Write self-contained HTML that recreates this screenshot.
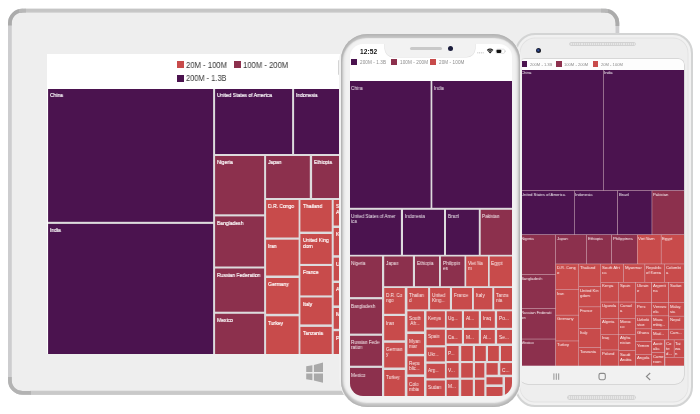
<!DOCTYPE html>
<html><head><meta charset="utf-8"><title>Treemap</title>
<style>
html,body{margin:0;padding:0;background:#fff;}
body{width:700px;height:414px;position:relative;overflow:hidden;font-family:"Liberation Sans",sans-serif;}
.abs{position:absolute;}
.c{position:absolute;overflow:hidden;color:#fff;}
.c span{position:absolute;white-space:nowrap;will-change:transform;}
.t span{left:2.5px;top:3.5px;font-size:5.65px;line-height:6.3px;-webkit-text-stroke:0.18px #fff;transform:scaleX(.885);transform-origin:0 0;}
.i span{left:1.8px;top:4.7px;font-size:4.8px;line-height:5.0px;transform:scaleX(.95);transform-origin:0 0;opacity:.92}
.a span{left:0.9px;top:1.0px;font-size:4.3px;line-height:5.0px;transform:scaleX(.93);transform-origin:0 0;opacity:.95}
.a.top span{top:0.1px}
.i.lc span{left:1.3px}
#tablet{left:8px;top:8.5px;width:604px;height:379px;border:3.7px solid #c9c9c9;border-radius:14px;background:#eeeeee;}
#tscreen{left:47.2px;top:54.2px;width:300px;height:299.8px;background:#fff;overflow:hidden;}
#tmap{left:0.7px;top:34.8px;width:300px;height:265px;background:#d9d5d9;}
.lg{position:absolute;color:#353535;white-space:nowrap;transform-origin:0 0;will-change:transform;}
#l1,#l2{transform:scaleX(.917);} #l3{transform:scaleX(.885);}
.sq{position:absolute;}
#android{left:515px;top:33px;width:173.8px;height:369.8px;border:2.1px solid #d3d4d4;border-radius:20px;background:#eeeeee;box-shadow:inset 0 0 0 2.6px #f1f1f1, inset 0 0 0 3.4px #e2e2e2;}
#ascreen{left:519px;top:58.6px;width:165px;height:325.4px;background:#f1f1f1;border-radius:6px 6px 9px 9px;overflow:hidden;box-shadow:0 0 0 0.7px #cfcfcf;}
#amap{left:0;top:11.4px;width:165px;height:295.6px;background:#d7b9c4;}
#iphone{left:338.6px;top:33.8px;width:183.9px;height:373.4px;border-radius:28px;background:#f1f1f1;}
#ibez{left:341.2px;top:33.8px;width:178.7px;height:373.4px;border-radius:26px;background:#f2f2f2;box-shadow:inset 0 0 3.6px 1.6px #adadad, inset 0 3px 1px 0.9px #c7c7c7, inset 0 -3.2px 1.4px 0.9px #cfcfcf;}
#iscreen{left:350px;top:44.4px;width:162px;height:351.6px;background:#fff;border-radius:13px 13px 13px 13px;overflow:hidden;}
#imap{left:0;top:36.6px;width:162px;height:315px;background:#d9d5d9;}
</style></head><body>

<svg class="abs" style="left:0;top:0" width="700" height="414" viewBox="0 0 700 414">
  <rect x="9.9" y="10.6" width="607.5" height="382.3" rx="12.5" ry="12.5" fill="#eeeeee" stroke="#cdcdcf" stroke-width="3.8"/>
  <path d="M22 10.6H605" stroke="#c5c5c5" stroke-width="3.8" fill="none"/>
  <path d="M22 12.3H605" stroke="#dadada" stroke-width="0.7" fill="none"/>
  <path d="M30 392.9H605" stroke="#c9c9c9" stroke-width="3.8" fill="none"/>
  <path d="M30 390.6H605" stroke="#e2e2e2" stroke-width="0.9" fill="none"/>
  <path d="M9.9 25.5V23.1A12.5 12.5 0 0 1 22.4 10.6" stroke="#ababab" stroke-width="3.8" fill="none"/>
  <path d="M19 10.9 Q22 10.6 26 10.6" stroke="#b8b8b8" stroke-width="3.8" fill="none"/>
  <path d="M617.4 26V23.1A12.5 12.5 0 0 0 604.9 10.6" stroke="#ababab" stroke-width="3.8" fill="none"/>
  <path d="M608 10.9 Q605 10.6 601 10.6" stroke="#b8b8b8" stroke-width="3.8" fill="none"/>
  <path d="M9.9 377V380.4A12.5 12.5 0 0 0 22.4 392.9H31" stroke="#b3b3b3" stroke-width="3.8" fill="none"/>
</svg>
<div id="tscreen" class="abs">
  <div class="sq" style="left:129.5px;top:7.3px;width:7px;height:7px;background:#C84B4B"></div>
  <div class="lg" id="l1" style="left:138.6px;top:5.9px;font-size:8.4px;line-height:11px;">20M - 100M</div>
  <div class="sq" style="left:187.1px;top:7.3px;width:7px;height:7px;background:#8C304D"></div>
  <div class="lg" id="l2" style="left:196.3px;top:5.9px;font-size:8.4px;line-height:11px;">100M - 200M</div>
  <div class="sq" style="left:129.5px;top:20.5px;width:7px;height:7px;background:#4B134F"></div>
  <div class="lg" id="l3" style="left:138.6px;top:19.1px;font-size:8.4px;line-height:11px;">200M - 1.3B</div>
  <div id="tmap" class="abs">
<svg class="abs" style="left:0;top:0" width="300" height="265" viewBox="0 0 300 265"><rect width="300" height="265" fill="#dddbdd"/>
<rect x="0.10" y="0.00" width="165.00" height="132.80" fill="#4B134F"/>
<rect x="0.10" y="134.90" width="165.00" height="130.10" fill="#4B134F"/>
<rect x="167.10" y="0.00" width="77.00" height="65.00" fill="#4B134F"/>
<rect x="246.10" y="0.00" width="52.00" height="65.00" fill="#4B134F"/>
<rect x="167.10" y="67.00" width="49.00" height="58.30" fill="#8C304D"/>
<rect x="167.10" y="127.40" width="49.00" height="50.10" fill="#8C304D"/>
<rect x="167.10" y="179.50" width="49.00" height="43.20" fill="#8C304D"/>
<rect x="167.10" y="224.80" width="49.00" height="40.20" fill="#8C304D"/>
<rect x="218.10" y="67.00" width="43.70" height="42.00" fill="#8C304D"/>
<rect x="264.10" y="67.00" width="34.00" height="42.00" fill="#8C304D"/>
<rect x="218.10" y="111.00" width="32.50" height="37.50" fill="#C84B4B"/>
<rect x="218.10" y="150.70" width="32.50" height="35.80" fill="#C84B4B"/>
<rect x="218.10" y="189.00" width="32.50" height="35.80" fill="#C84B4B"/>
<rect x="218.10" y="227.30" width="32.50" height="37.70" fill="#C84B4B"/>
<rect x="252.40" y="111.00" width="31.30" height="31.60" fill="#C84B4B"/>
<rect x="252.40" y="145.00" width="31.30" height="29.90" fill="#C84B4B"/>
<rect x="252.40" y="177.00" width="31.30" height="29.40" fill="#C84B4B"/>
<rect x="252.40" y="208.50" width="31.30" height="26.90" fill="#C84B4B"/>
<rect x="252.40" y="237.90" width="31.30" height="27.10" fill="#C84B4B"/>
<rect x="285.70" y="111.00" width="12.40" height="25.50" fill="#C84B4B"/>
<rect x="285.70" y="139.00" width="12.40" height="27.20" fill="#C84B4B"/>
<rect x="285.70" y="168.70" width="12.40" height="22.90" fill="#C84B4B"/>
<rect x="285.70" y="194.00" width="12.40" height="22.40" fill="#C84B4B"/>
<rect x="285.70" y="219.00" width="12.40" height="20.80" fill="#C84B4B"/>
<rect x="285.70" y="242.20" width="12.40" height="22.80" fill="#C84B4B"/>
</svg>
<div class="c t" style="left:0.1px;top:0.0px;width:165.0px;height:132.8px;"><span>China</span></div>
<div class="c t" style="left:0.1px;top:134.9px;width:165.0px;height:130.1px;"><span>India</span></div>
<div class="c t" style="left:167.1px;top:0.0px;width:77.0px;height:65.0px;"><span>United States of America</span></div>
<div class="c t" style="left:246.1px;top:0.0px;width:52.0px;height:65.0px;"><span>Indonesia</span></div>
<div class="c t" style="left:167.1px;top:67.0px;width:49.0px;height:58.3px;"><span>Nigeria</span></div>
<div class="c t" style="left:167.1px;top:127.4px;width:49.0px;height:50.1px;"><span>Bangladesh</span></div>
<div class="c t" style="left:167.1px;top:179.5px;width:49.0px;height:43.2px;"><span>Russian Federation</span></div>
<div class="c t" style="left:167.1px;top:224.8px;width:49.0px;height:40.2px;"><span>Mexico</span></div>
<div class="c t" style="left:218.1px;top:67.0px;width:43.7px;height:42.0px;"><span>Japan</span></div>
<div class="c t" style="left:264.1px;top:67.0px;width:34.0px;height:42.0px;"><span>Ethiopia</span></div>
<div class="c t" style="left:218.1px;top:111.0px;width:32.5px;height:37.5px;"><span>D.R. Congo</span></div>
<div class="c t" style="left:218.1px;top:150.7px;width:32.5px;height:35.8px;"><span>Iran</span></div>
<div class="c t" style="left:218.1px;top:189.0px;width:32.5px;height:35.8px;"><span>Germany</span></div>
<div class="c t" style="left:218.1px;top:227.3px;width:32.5px;height:37.7px;"><span>Turkey</span></div>
<div class="c t" style="left:252.4px;top:111.0px;width:31.3px;height:31.6px;"><span>Thailand</span></div>
<div class="c t" style="left:252.4px;top:145.0px;width:31.3px;height:29.9px;"><span>United King<br>dom</span></div>
<div class="c t" style="left:252.4px;top:177.0px;width:31.3px;height:29.4px;"><span>France</span></div>
<div class="c t" style="left:252.4px;top:208.5px;width:31.3px;height:26.9px;"><span>Italy</span></div>
<div class="c t" style="left:252.4px;top:237.9px;width:31.3px;height:27.1px;"><span>Tanzania</span></div>
<div class="c t" style="left:285.7px;top:111.0px;width:12.4px;height:25.5px;"><span>Sou<br>Afr</span></div>
<div class="c t" style="left:285.7px;top:139.0px;width:12.4px;height:27.2px;"><span>Kenya</span></div>
<div class="c t" style="left:285.7px;top:168.7px;width:12.4px;height:22.9px;"><span>Ug</span></div>
<div class="c t" style="left:285.7px;top:194.0px;width:12.4px;height:22.4px;"><span>Alg</span></div>
<div class="c t" style="left:285.7px;top:219.0px;width:12.4px;height:20.8px;"><span>Mo</span></div>
<div class="c t" style="left:285.7px;top:242.2px;width:12.4px;height:22.8px;"><span>Pol</span></div>
  </div>
</div>
<!-- windows logo -->
<svg class="abs" style="left:305px;top:361px" width="20" height="24" viewBox="305 361 20 24">
 <g fill="#a9a9a9">
  <polygon points="306.2,366.2 312.4,365.2 312.4,372 306.2,372"/>
  <polygon points="313.9,365 323,362.6 323,372 313.9,372"/>
  <polygon points="306.2,373.5 312.4,373.5 312.4,380.2 306.2,379.2"/>
  <polygon points="313.9,373.5 323,373.5 323,382.8 313.9,380.5"/>
 </g>
</svg>

<div id="android" class="abs"></div>
<div class="abs" style="left:569.6px;top:42.8px;width:65.8px;height:2.6px;border-radius:1.6px;background:repeating-linear-gradient(90deg,#d6d6d6 0,#d6d6d6 1px,#e6e6e6 1px,#e6e6e6 2.1px);box-shadow:0 0 0 0.7px #c9c9c9;"></div>
<div class="abs" style="left:536px;top:47.5px;width:5px;height:5px;border-radius:50%;background:radial-gradient(circle at 45% 45%,#3a63c0 0,#1a2244 38%,#1a1a1a 70%,#444 100%);"></div>
<div class="abs" style="left:567.7px;top:396.1px;width:67.4px;height:3px;border-radius:1.8px;background:repeating-linear-gradient(90deg,#d6d6d6 0,#d6d6d6 1px,#e6e6e6 1px,#e6e6e6 2.1px);box-shadow:0 0 0 0.7px #c9c9c9;"></div>
<div id="ascreen" class="abs">
  <div class="abs" style="left:0;top:0;width:165px;height:11.5px;background:#fdfdfd"></div>
  <div class="sq" style="left:1px;top:2.4px;width:7px;height:5.6px;background:#4B134F"></div>
  <div class="lg al" style="left:10.5px;top:3.5px;">200M - 1.3B</div>
  <div class="sq" style="left:37px;top:2.4px;width:5.8px;height:5.6px;background:#8C304D"></div>
  <div class="lg al" style="left:45px;top:3.5px;">100M - 200M</div>
  <div class="sq" style="left:73.5px;top:2.4px;width:5.8px;height:5.6px;background:#C84B4B"></div>
  <div class="lg al" style="left:81.5px;top:3.5px;">20M - 100M</div>
  <div id="amap" class="abs">
<svg class="abs" style="left:0;top:0" width="165" height="295.6" viewBox="0 0 165 295.6"><rect width="165" height="295.6" fill="#d9bac4"/>
<rect x="1.00" y="0.00" width="83.10" height="120.30" fill="#4B134F"/>
<rect x="84.60" y="0.00" width="80.40" height="120.30" fill="#4B134F"/>
<rect x="1.00" y="120.80" width="54.10" height="43.60" fill="#4B134F"/>
<rect x="55.60" y="120.80" width="42.80" height="43.60" fill="#4B134F"/>
<rect x="99.00" y="120.80" width="33.70" height="43.60" fill="#4B134F"/>
<rect x="133.20" y="120.80" width="31.80" height="43.60" fill="#8C304D"/>
<rect x="1.00" y="164.90" width="35.30" height="39.40" fill="#8C304D"/>
<rect x="1.00" y="204.80" width="35.30" height="33.50" fill="#8C304D"/>
<rect x="1.00" y="238.80" width="35.30" height="30.00" fill="#8C304D"/>
<rect x="1.00" y="269.30" width="35.30" height="26.30" fill="#8C304D"/>
<rect x="36.80" y="164.90" width="30.50" height="28.80" fill="#8C304D"/>
<rect x="67.80" y="164.90" width="24.60" height="28.80" fill="#8C304D"/>
<rect x="93.00" y="164.90" width="25.00" height="28.80" fill="#8C304D"/>
<rect x="118.50" y="164.90" width="23.40" height="28.80" fill="#C84B4B"/>
<rect x="142.40" y="164.90" width="22.60" height="28.80" fill="#C84B4B"/>
<rect x="36.80" y="194.20" width="22.70" height="25.30" fill="#C84B4B"/>
<rect x="36.80" y="220.00" width="22.70" height="24.90" fill="#C84B4B"/>
<rect x="36.80" y="245.40" width="22.70" height="25.30" fill="#C84B4B"/>
<rect x="36.80" y="271.20" width="22.70" height="24.40" fill="#C84B4B"/>
<rect x="60.00" y="194.20" width="21.50" height="22.10" fill="#C84B4B"/>
<rect x="60.00" y="216.80" width="21.50" height="19.80" fill="#C84B4B"/>
<rect x="60.00" y="237.10" width="21.50" height="21.20" fill="#C84B4B"/>
<rect x="60.00" y="258.80" width="21.50" height="18.30" fill="#C84B4B"/>
<rect x="60.00" y="277.60" width="21.50" height="18.00" fill="#C84B4B"/>
<rect x="82.00" y="194.20" width="22.20" height="17.80" fill="#C84B4B"/>
<rect x="104.70" y="194.20" width="20.90" height="17.80" fill="#C84B4B"/>
<rect x="126.10" y="194.20" width="19.40" height="17.80" fill="#C84B4B"/>
<rect x="146.00" y="194.20" width="19.00" height="17.80" fill="#C84B4B"/>
<rect x="82.00" y="212.50" width="17.50" height="19.30" fill="#C84B4B"/>
<rect x="100.00" y="212.50" width="16.20" height="19.30" fill="#C84B4B"/>
<rect x="116.70" y="212.50" width="15.70" height="19.60" fill="#C84B4B"/>
<rect x="133.00" y="212.50" width="16.40" height="19.60" fill="#C84B4B"/>
<rect x="150.00" y="212.50" width="15.00" height="19.60" fill="#C84B4B"/>
<rect x="82.00" y="232.30" width="17.50" height="15.70" fill="#C84B4B"/>
<rect x="100.00" y="232.30" width="16.20" height="15.70" fill="#C84B4B"/>
<rect x="116.70" y="232.60" width="15.70" height="13.00" fill="#C84B4B"/>
<rect x="133.00" y="232.60" width="16.40" height="13.00" fill="#C84B4B"/>
<rect x="150.00" y="232.60" width="15.00" height="13.30" fill="#C84B4B"/>
<rect x="82.00" y="248.50" width="17.50" height="15.50" fill="#C84B4B"/>
<rect x="100.00" y="248.50" width="16.20" height="15.50" fill="#C84B4B"/>
<rect x="116.70" y="246.10" width="15.70" height="12.50" fill="#C84B4B"/>
<rect x="133.00" y="246.10" width="16.40" height="13.20" fill="#C84B4B"/>
<rect x="150.00" y="246.40" width="15.00" height="12.50" fill="#C84B4B"/>
<rect x="82.00" y="264.50" width="17.50" height="15.20" fill="#C84B4B"/>
<rect x="100.00" y="264.50" width="16.20" height="15.60" fill="#C84B4B"/>
<rect x="116.70" y="259.10" width="15.70" height="12.20" fill="#C84B4B"/>
<rect x="133.00" y="259.80" width="16.40" height="9.80" fill="#C84B4B"/>
<rect x="150.00" y="259.40" width="15.00" height="10.20" fill="#C84B4B"/>
<rect x="82.00" y="280.20" width="17.50" height="15.40" fill="#C84B4B"/>
<rect x="100.00" y="280.60" width="16.20" height="15.00" fill="#C84B4B"/>
<rect x="116.70" y="271.80" width="15.70" height="12.20" fill="#C84B4B"/>
<rect x="116.70" y="284.50" width="15.70" height="11.10" fill="#C84B4B"/>
<rect x="133.00" y="270.10" width="12.20" height="12.10" fill="#C84B4B"/>
<rect x="133.00" y="282.70" width="12.20" height="12.90" fill="#C84B4B"/>
<rect x="146.20" y="270.10" width="8.70" height="16.90" fill="#C84B4B"/>
<rect x="155.40" y="270.10" width="9.60" height="16.90" fill="#C84B4B"/>
<rect x="146.20" y="287.50" width="18.80" height="8.10" fill="#C84B4B"/>
</svg>
<div class="c a top" style="left:1.0px;top:0.0px;width:83.1px;height:120.3px;"><span>China</span></div>
<div class="c a top" style="left:84.6px;top:0.0px;width:80.4px;height:120.3px;"><span>India</span></div>
<div class="c a" style="left:1.0px;top:120.8px;width:54.1px;height:43.6px;"><span>United States of America</span></div>
<div class="c a" style="left:55.6px;top:120.8px;width:42.8px;height:43.6px;"><span>Indonesia</span></div>
<div class="c a" style="left:99.0px;top:120.8px;width:33.7px;height:43.6px;"><span>Brazil</span></div>
<div class="c a" style="left:133.2px;top:120.8px;width:31.8px;height:43.6px;"><span>Pakistan</span></div>
<div class="c a" style="left:1.0px;top:164.9px;width:35.3px;height:39.4px;"><span>Nigeria</span></div>
<div class="c a" style="left:1.0px;top:204.8px;width:35.3px;height:33.5px;"><span>Bangladesh</span></div>
<div class="c a" style="left:1.0px;top:238.8px;width:35.3px;height:30.0px;"><span>Russian Federati<br>on</span></div>
<div class="c a" style="left:1.0px;top:269.3px;width:35.3px;height:26.3px;"><span>Mexico</span></div>
<div class="c a" style="left:36.8px;top:164.9px;width:30.5px;height:28.8px;"><span>Japan</span></div>
<div class="c a" style="left:67.8px;top:164.9px;width:24.6px;height:28.8px;"><span>Ethiopia</span></div>
<div class="c a" style="left:93.0px;top:164.9px;width:25.0px;height:28.8px;"><span>Philippines</span></div>
<div class="c a" style="left:118.5px;top:164.9px;width:23.4px;height:28.8px;"><span>Viet Nam</span></div>
<div class="c a" style="left:142.4px;top:164.9px;width:22.6px;height:28.8px;"><span>Egypt</span></div>
<div class="c a" style="left:36.8px;top:194.2px;width:22.7px;height:25.3px;"><span>D.R. Cong<br>o</span></div>
<div class="c a" style="left:36.8px;top:220.0px;width:22.7px;height:24.9px;"><span>Iran</span></div>
<div class="c a" style="left:36.8px;top:245.4px;width:22.7px;height:25.3px;"><span>Germany</span></div>
<div class="c a" style="left:36.8px;top:271.2px;width:22.7px;height:24.4px;"><span>Turkey</span></div>
<div class="c a" style="left:60.0px;top:194.2px;width:21.5px;height:22.1px;"><span>Thailand</span></div>
<div class="c a" style="left:60.0px;top:216.8px;width:21.5px;height:19.8px;"><span>United Kin<br>gdom</span></div>
<div class="c a" style="left:60.0px;top:237.1px;width:21.5px;height:21.2px;"><span>France</span></div>
<div class="c a" style="left:60.0px;top:258.8px;width:21.5px;height:18.3px;"><span>Italy</span></div>
<div class="c a" style="left:60.0px;top:277.6px;width:21.5px;height:18.0px;"><span>Tanzania</span></div>
<div class="c a" style="left:82.0px;top:194.2px;width:22.2px;height:17.8px;"><span>South Afri<br>ca</span></div>
<div class="c a" style="left:104.7px;top:194.2px;width:20.9px;height:17.8px;"><span>Myanmar</span></div>
<div class="c a" style="left:126.1px;top:194.2px;width:19.4px;height:17.8px;"><span>Republic<br>of Korea</span></div>
<div class="c a" style="left:146.0px;top:194.2px;width:19.0px;height:17.8px;"><span>Colombi<br>a</span></div>
<div class="c a" style="left:82.0px;top:212.5px;width:17.5px;height:19.3px;"><span>Kenya</span></div>
<div class="c a" style="left:100.0px;top:212.5px;width:16.2px;height:19.3px;"><span>Spain</span></div>
<div class="c a" style="left:116.7px;top:212.5px;width:15.7px;height:19.6px;"><span>Ukrain<br>e</span></div>
<div class="c a" style="left:133.0px;top:212.5px;width:16.4px;height:19.6px;"><span>Argenti<br>na</span></div>
<div class="c a" style="left:150.0px;top:212.5px;width:15.0px;height:19.6px;"><span>Sudan</span></div>
<div class="c a" style="left:82.0px;top:232.3px;width:17.5px;height:15.7px;"><span>Uganda</span></div>
<div class="c a" style="left:100.0px;top:232.3px;width:16.2px;height:15.7px;"><span>Canad<br>a</span></div>
<div class="c a" style="left:116.7px;top:232.6px;width:15.7px;height:13.0px;"><span>Peru</span></div>
<div class="c a" style="left:133.0px;top:232.6px;width:16.4px;height:13.0px;"><span>Venezu<br>ela</span></div>
<div class="c a" style="left:150.0px;top:232.6px;width:15.0px;height:13.3px;"><span>Malay<br>sia</span></div>
<div class="c a" style="left:82.0px;top:248.5px;width:17.5px;height:15.5px;"><span>Algeria</span></div>
<div class="c a" style="left:100.0px;top:248.5px;width:16.2px;height:15.5px;"><span>Moroc<br>co</span></div>
<div class="c a" style="left:116.7px;top:246.1px;width:15.7px;height:12.5px;"><span>Uzbeki<br>stan</span></div>
<div class="c a" style="left:133.0px;top:246.1px;width:16.4px;height:13.2px;"><span>Moza<br>mbiq...</span></div>
<div class="c a" style="left:150.0px;top:246.4px;width:15.0px;height:12.5px;"><span>Nepal</span></div>
<div class="c a" style="left:82.0px;top:264.5px;width:17.5px;height:15.2px;"><span>Iraq</span></div>
<div class="c a" style="left:100.0px;top:264.5px;width:16.2px;height:15.6px;"><span>Afgha<br>nistan</span></div>
<div class="c a" style="left:116.7px;top:259.1px;width:15.7px;height:12.2px;"><span>Ghana</span></div>
<div class="c a" style="left:133.0px;top:259.8px;width:16.4px;height:9.8px;"><span>Mad...</span></div>
<div class="c a" style="left:150.0px;top:259.4px;width:15.0px;height:10.2px;"><span>Cam...</span></div>
<div class="c a" style="left:82.0px;top:280.2px;width:17.5px;height:15.4px;"><span>Poland</span></div>
<div class="c a" style="left:100.0px;top:280.6px;width:16.2px;height:15.0px;"><span>Saudi<br>Arabia</span></div>
<div class="c a" style="left:116.7px;top:271.8px;width:15.7px;height:12.2px;"><span>Yemen</span></div>
<div class="c a" style="left:116.7px;top:284.5px;width:15.7px;height:11.1px;"><span>Angola</span></div>
<div class="c a" style="left:133.0px;top:270.1px;width:12.2px;height:12.1px;"><span>Austr<br>alia</span></div>
<div class="c a" style="left:133.0px;top:282.7px;width:12.2px;height:12.9px;"><span>Came<br>roon</span></div>
<div class="c a" style="left:146.2px;top:270.1px;width:8.7px;height:16.9px;"><span>Co<br>te<br>d...</span></div>
<div class="c a" style="left:155.4px;top:270.1px;width:9.6px;height:16.9px;"><span>Tai<br>wa<br>n</span></div>
  </div>
  <!-- nav -->
  <svg class="abs" style="left:0;top:307px" width="165" height="19" viewBox="519 365.6 165 19">
    <g stroke="#8a8a8a" stroke-width="0.9" fill="none">
      <path d="M553.9 373v6.4M556.3 373v6.4M558.7 373v6.4"/>
      <rect x="599" y="373" width="6.3" height="6.3" rx="1.6" stroke-width="1.1"/>
      <path d="M650.2 372.6l-3.8 3.5 3.8 3.5" stroke-width="1.1"/>
    </g>
  </svg>
</div>

<!-- iphone -->
<div class="abs" style="left:337.6px;top:60px;width:3px;height:15px;background:#d4d4d4;border-radius:1px;"></div>
<div id="iphone" class="abs"></div>
<div id="ibez" class="abs"></div>
<div id="iscreen" class="abs">
  <!-- notch -->
  <div class="abs" style="left:35px;top:-8px;width:90.4px;height:20.2px;background:#f2f2f2;border-radius:8.5px;box-shadow:0 0 0 0.6px #e0e0e0;"></div>
  <div class="abs" style="left:60px;top:3px;width:32px;height:3px;border-radius:1.5px;background:#c9c9c9;"></div>
  <div class="abs" style="left:98px;top:2.1px;width:5px;height:5px;border-radius:50%;background:#1b1d3c;"></div>
  <div class="abs" id="time" style="will-change:transform;left:10.3px;top:2.2px;font-size:6.6px;line-height:9px;font-weight:bold;color:#111;letter-spacing:0.1px;">12:52</div>
  <!-- status icons -->
  <svg class="abs" style="left:125px;top:0" width="37" height="14" viewBox="475 44.4 37 14">
    <g fill="#c8c8c8"><rect x="477.3" y="52.6" width="1" height="1.2"/><rect x="479.1" y="52.6" width="1" height="1.2"/><rect x="480.9" y="52.6" width="1" height="1.2"/><rect x="482.7" y="52.6" width="1" height="1.2"/></g>
    <path d="M486.8 50.4 Q490 47.6 493.4 50.4 L490.1 54 Z" fill="#111"/>
    <path d="M487.6 51.1 Q490.1 49.2 492.6 51.1" stroke="#fff" stroke-width="0.5" fill="none"/>
    <path d="M488.5 52.2 Q490.1 51 491.7 52.2" stroke="#fff" stroke-width="0.45" fill="none"/>
    <rect x="496" y="49.6" width="8.6" height="4.2" rx="1.2" fill="none" stroke="#cfcfcf" stroke-width="0.6"/>
    <rect x="496.5" y="50.1" width="4.8" height="3.2" rx="0.8" fill="#111"/>
    <rect x="505" y="50.9" width="0.7" height="1.6" fill="#cfcfcf"/>
  </svg>
  <!-- legend -->
  <div class="sq" style="left:1px;top:14.8px;width:6.2px;height:6.2px;background:#4B134F"></div>
  <div class="lg il" style="left:10px;top:15.3px;">200M - 1.3B</div>
  <div class="sq" style="left:40.6px;top:14.8px;width:6.2px;height:6.2px;background:#8C304D"></div>
  <div class="lg il" style="left:49.7px;top:15.3px;">100M - 200M</div>
  <div class="sq" style="left:80.2px;top:14.8px;width:6.2px;height:6.2px;background:#C84B4B"></div>
  <div class="lg il" style="left:89.3px;top:15.3px;">20M - 100M</div>
  <div id="imap" class="abs">
<svg class="abs" style="left:0;top:0" width="162" height="315" viewBox="0 0 162 315"><rect width="162" height="315" fill="#dddbdd"/>
<rect x="0.00" y="0.00" width="80.60" height="126.80" fill="#4B134F"/>
<rect x="82.30" y="0.00" width="79.70" height="126.80" fill="#4B134F"/>
<rect x="0.00" y="128.80" width="50.90" height="45.00" fill="#4B134F"/>
<rect x="53.00" y="128.80" width="41.00" height="45.00" fill="#4B134F"/>
<rect x="96.00" y="128.80" width="32.80" height="45.00" fill="#4B134F"/>
<rect x="130.70" y="128.80" width="31.30" height="45.00" fill="#8C304D"/>
<rect x="0.00" y="175.50" width="32.00" height="40.60" fill="#8C304D"/>
<rect x="0.00" y="218.30" width="32.00" height="34.30" fill="#8C304D"/>
<rect x="0.00" y="254.80" width="32.00" height="29.90" fill="#8C304D"/>
<rect x="0.00" y="286.90" width="32.00" height="28.10" fill="#8C304D"/>
<rect x="34.20" y="175.50" width="28.70" height="29.70" fill="#8C304D"/>
<rect x="65.00" y="175.50" width="24.00" height="29.70" fill="#8C304D"/>
<rect x="90.90" y="175.50" width="23.60" height="29.70" fill="#8C304D"/>
<rect x="116.20" y="175.50" width="21.80" height="29.70" fill="#C84B4B"/>
<rect x="139.70" y="175.50" width="22.30" height="29.70" fill="#C84B4B"/>
<rect x="34.20" y="207.00" width="20.60" height="25.80" fill="#C84B4B"/>
<rect x="34.20" y="235.00" width="20.60" height="24.30" fill="#C84B4B"/>
<rect x="34.20" y="261.80" width="20.60" height="24.70" fill="#C84B4B"/>
<rect x="34.20" y="289.00" width="20.60" height="26.00" fill="#C84B4B"/>
<rect x="57.40" y="207.00" width="20.70" height="21.40" fill="#C84B4B"/>
<rect x="80.10" y="207.00" width="19.80" height="21.40" fill="#C84B4B"/>
<rect x="102.00" y="207.00" width="20.00" height="21.40" fill="#C84B4B"/>
<rect x="123.90" y="207.00" width="18.40" height="21.40" fill="#C84B4B"/>
<rect x="144.20" y="207.00" width="17.80" height="21.40" fill="#C84B4B"/>
<rect x="57.40" y="230.30" width="16.60" height="20.10" fill="#C84B4B"/>
<rect x="57.40" y="253.00" width="16.60" height="19.90" fill="#C84B4B"/>
<rect x="57.40" y="275.30" width="16.60" height="18.10" fill="#C84B4B"/>
<rect x="57.40" y="295.90" width="16.60" height="19.10" fill="#C84B4B"/>
<rect x="76.50" y="230.30" width="18.40" height="16.20" fill="#C84B4B"/>
<rect x="76.50" y="248.70" width="18.40" height="15.50" fill="#C84B4B"/>
<rect x="76.50" y="266.40" width="18.40" height="14.00" fill="#C84B4B"/>
<rect x="76.50" y="282.80" width="18.40" height="14.50" fill="#C84B4B"/>
<rect x="76.50" y="299.50" width="18.40" height="15.50" fill="#C84B4B"/>
<rect x="96.70" y="230.30" width="15.20" height="16.50" fill="#C84B4B"/>
<rect x="114.00" y="230.30" width="14.80" height="16.50" fill="#C84B4B"/>
<rect x="131.00" y="230.30" width="13.80" height="16.50" fill="#C84B4B"/>
<rect x="147.10" y="230.30" width="14.90" height="16.50" fill="#C84B4B"/>
<rect x="96.70" y="249.00" width="15.20" height="13.50" fill="#C84B4B"/>
<rect x="114.00" y="249.00" width="14.80" height="13.50" fill="#C84B4B"/>
<rect x="131.00" y="249.00" width="13.80" height="13.50" fill="#C84B4B"/>
<rect x="147.10" y="249.00" width="14.90" height="13.50" fill="#C84B4B"/>
<rect x="96.70" y="265.00" width="11.90" height="15.00" fill="#C84B4B"/>
<rect x="111.20" y="265.00" width="11.60" height="15.00" fill="#C84B4B"/>
<rect x="125.00" y="265.00" width="10.80" height="15.00" fill="#C84B4B"/>
<rect x="138.00" y="265.00" width="10.80" height="15.00" fill="#C84B4B"/>
<rect x="151.00" y="265.00" width="11.00" height="15.00" fill="#C84B4B"/>
<rect x="96.70" y="282.10" width="11.90" height="14.50" fill="#C84B4B"/>
<rect x="111.20" y="282.10" width="11.60" height="14.50" fill="#C84B4B"/>
<rect x="125.00" y="282.10" width="9.30" height="14.50" fill="#C84B4B"/>
<rect x="136.50" y="282.10" width="11.20" height="11.60" fill="#C84B4B"/>
<rect x="150.30" y="282.10" width="11.70" height="11.60" fill="#C84B4B"/>
<rect x="96.70" y="298.80" width="11.90" height="16.20" fill="#C84B4B"/>
<rect x="111.20" y="298.80" width="11.60" height="16.20" fill="#C84B4B"/>
<rect x="125.00" y="298.80" width="9.30" height="16.20" fill="#C84B4B"/>
<rect x="136.50" y="296.20" width="16.00" height="7.20" fill="#C84B4B"/>
<rect x="136.50" y="306.00" width="16.00" height="9.00" fill="#C84B4B"/>
<rect x="155.00" y="296.20" width="7.00" height="18.80" fill="#C84B4B"/>
</svg>
<div class="c i lc" style="left:0.0px;top:0.0px;width:80.6px;height:126.8px;"><span>China</span></div>
<div class="c i" style="left:82.3px;top:0.0px;width:79.7px;height:126.8px;"><span>India</span></div>
<div class="c i lc" style="left:0.0px;top:128.8px;width:50.9px;height:45.0px;"><span>United States of Amer<br>ica</span></div>
<div class="c i" style="left:53.0px;top:128.8px;width:41.0px;height:45.0px;"><span>Indonesia</span></div>
<div class="c i" style="left:96.0px;top:128.8px;width:32.8px;height:45.0px;"><span>Brazil</span></div>
<div class="c i" style="left:130.7px;top:128.8px;width:31.3px;height:45.0px;"><span>Pakistan</span></div>
<div class="c i lc" style="left:0.0px;top:175.5px;width:32.0px;height:40.6px;"><span>Nigeria</span></div>
<div class="c i lc" style="left:0.0px;top:218.3px;width:32.0px;height:34.3px;"><span>Bangladesh</span></div>
<div class="c i lc" style="left:0.0px;top:254.8px;width:32.0px;height:29.9px;"><span>Russian Fede<br>ration</span></div>
<div class="c i lc" style="left:0.0px;top:286.9px;width:32.0px;height:28.1px;"><span>Mexico</span></div>
<div class="c i" style="left:34.2px;top:175.5px;width:28.7px;height:29.7px;"><span>Japan</span></div>
<div class="c i" style="left:65.0px;top:175.5px;width:24.0px;height:29.7px;"><span>Ethiopia</span></div>
<div class="c i" style="left:90.9px;top:175.5px;width:23.6px;height:29.7px;"><span>Philippin<br>es</span></div>
<div class="c i" style="left:116.2px;top:175.5px;width:21.8px;height:29.7px;"><span>Viet Na<br>m</span></div>
<div class="c i" style="left:139.7px;top:175.5px;width:22.3px;height:29.7px;"><span>Egypt</span></div>
<div class="c i" style="left:34.2px;top:207.0px;width:20.6px;height:25.8px;"><span>D.R. Co<br>ngo</span></div>
<div class="c i" style="left:34.2px;top:235.0px;width:20.6px;height:24.3px;"><span>Iran</span></div>
<div class="c i" style="left:34.2px;top:261.8px;width:20.6px;height:24.7px;"><span>German<br>y</span></div>
<div class="c i" style="left:34.2px;top:289.0px;width:20.6px;height:26.0px;"><span>Turkey</span></div>
<div class="c i" style="left:57.4px;top:207.0px;width:20.7px;height:21.4px;"><span>Thailan<br>d</span></div>
<div class="c i" style="left:80.1px;top:207.0px;width:19.8px;height:21.4px;"><span>United<br>King...</span></div>
<div class="c i" style="left:102.0px;top:207.0px;width:20.0px;height:21.4px;"><span>France</span></div>
<div class="c i" style="left:123.9px;top:207.0px;width:18.4px;height:21.4px;"><span>Italy</span></div>
<div class="c i" style="left:144.2px;top:207.0px;width:17.8px;height:21.4px;"><span>Tanza<br>nia</span></div>
<div class="c i" style="left:57.4px;top:230.3px;width:16.6px;height:20.1px;"><span>South<br>&nbsp;Afr...</span></div>
<div class="c i" style="left:57.4px;top:253.0px;width:16.6px;height:19.9px;"><span>Myan<br>mar</span></div>
<div class="c i" style="left:57.4px;top:275.3px;width:16.6px;height:18.1px;"><span>Repu<br>blic...</span></div>
<div class="c i" style="left:57.4px;top:295.9px;width:16.6px;height:19.1px;"><span>Colo<br>mbia</span></div>
<div class="c i" style="left:76.5px;top:230.3px;width:18.4px;height:16.2px;"><span>Kenya</span></div>
<div class="c i" style="left:76.5px;top:248.7px;width:18.4px;height:15.5px;"><span>Spain</span></div>
<div class="c i" style="left:76.5px;top:266.4px;width:18.4px;height:14.0px;"><span>Ukr...</span></div>
<div class="c i" style="left:76.5px;top:282.8px;width:18.4px;height:14.5px;"><span>Arg...</span></div>
<div class="c i" style="left:76.5px;top:299.5px;width:18.4px;height:15.5px;"><span>Sudan</span></div>
<div class="c i" style="left:96.7px;top:230.3px;width:15.2px;height:16.5px;"><span>Ug...</span></div>
<div class="c i" style="left:114.0px;top:230.3px;width:14.8px;height:16.5px;"><span>Al...</span></div>
<div class="c i" style="left:131.0px;top:230.3px;width:13.8px;height:16.5px;"><span>Iraq</span></div>
<div class="c i" style="left:147.1px;top:230.3px;width:14.9px;height:16.5px;"><span>Po...</span></div>
<div class="c i" style="left:96.7px;top:249.0px;width:15.2px;height:13.5px;"><span>Ca...</span></div>
<div class="c i" style="left:114.0px;top:249.0px;width:14.8px;height:13.5px;"><span>M...</span></div>
<div class="c i" style="left:131.0px;top:249.0px;width:13.8px;height:13.5px;"><span>Al...</span></div>
<div class="c i" style="left:147.1px;top:249.0px;width:14.9px;height:13.5px;"><span>Se...</span></div>
<div class="c i" style="left:96.7px;top:265.0px;width:11.9px;height:15.0px;"><span>P...</span></div>
<div class="c i" style="left:96.7px;top:282.1px;width:11.9px;height:14.5px;"><span>V...</span></div>
<div class="c i" style="left:150.3px;top:282.1px;width:11.7px;height:11.6px;"><span>C...</span></div>
<div class="c i" style="left:96.7px;top:298.8px;width:11.9px;height:16.2px;"><span>M...</span></div>
  </div>
</div>
<style>
.il{font-size:4.6px;line-height:5.4px;color:#8c8c8c;letter-spacing:0.1px;}
.al{font-size:4.1px;line-height:5px;color:#8c8c8c;}
</style>
</body></html>
